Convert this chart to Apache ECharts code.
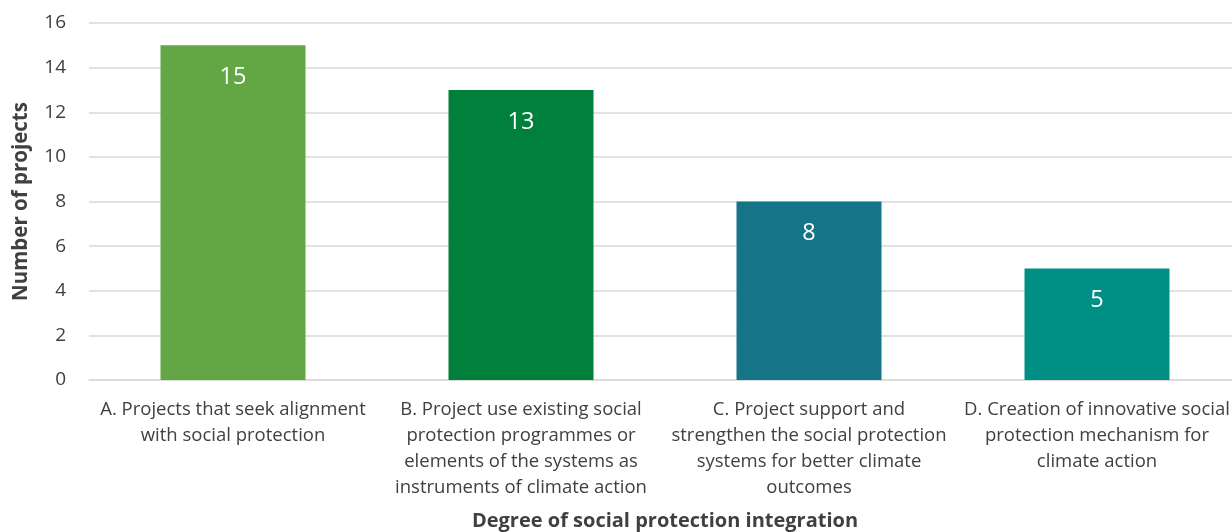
<!DOCTYPE html>
<html>
<head>
<meta charset="utf-8">
<script src="https://cdn.jsdelivr.net/npm/echarts@6/dist/echarts.min.js"></script>
<style>
  html, body { margin: 0; padding: 0; background: #ffffff; overflow: hidden; }
  /* the plot runs a few pixels past the right edge of the window */
  #chart { width: 1242px; height: 532px; }
</style>
</head>
<body>
<div id="chart"></div>
<script>
// Projects grouped by how deeply they integrate social protection
const categories = [
  'A. Projects that seek alignment\nwith social protection',
  'B. Project use existing social\nprotection programmes or\nelements of the systems as\ninstruments of climate action',
  'C. Project support and\nstrengthen the social protection\nsystems for better climate\noutcomes',
  'D. Creation of innovative social\nprotection mechanism for\nclimate action'
];
const projectCounts = [15, 13, 8, 5];
const barColors = ['#63a744', '#00803b', '#167488', '#008f85'];
const yTicks = { min: 0, max: 16, interval: 2 };

const FONT = '"Open Sans", sans-serif';

const chart = echarts.init(document.getElementById('chart'), null, { renderer: 'canvas' });
chart.setOption({
  animation: false,
  backgroundColor: '#ffffff',
  grid: { left: 89, right: 1, top: 23, bottom: 152, containLabel: false, outerBoundsMode: 'none' },
  xAxis: {
    type: 'category',
    data: categories,
    name: 'Degree of social protection integration',
    nameLocation: 'middle',
    nameGap: 141,
    nameTextStyle: { fontFamily: FONT, fontSize: 20, fontWeight: 'bold', color: '#404040', verticalAlign: 'middle' },
    axisLine: { show: true, lineStyle: { color: '#d9d9d9', width: 1.5 } },
    axisTick: { show: false },
    axisLabel: {
      interval: 0,
      margin: 17,
      fontFamily: FONT,
      fontSize: 18.5,
      lineHeight: 26,
      color: '#404040',
      align: 'center'
    }
  },
  yAxis: {
    type: 'value',
    min: yTicks.min,
    max: yTicks.max,
    interval: yTicks.interval,
    name: 'Number of projects',
    nameLocation: 'middle',
    nameGap: 68,
    nameTextStyle: { fontFamily: FONT, fontSize: 20.5, fontWeight: 'bold', color: '#404040', verticalAlign: 'middle' },
    axisLine: { show: false },
    axisTick: { show: false },
    axisLabel: { fontFamily: FONT, fontSize: 19, color: '#404040', margin: 23 },
    splitLine: { lineStyle: { color: '#d9d9d9', width: 1.5 } }
  },
  series: [{
    type: 'bar',
    barWidth: 145,
    data: projectCounts.map((v, i) => ({ value: v, itemStyle: { color: barColors[i] } })),
    label: {
      show: true,
      position: 'insideTop',
      distance: 20,
      fontFamily: FONT,
      fontSize: 23.5,
      color: '#ffffff'
    }
  }]
});
</script>
</body>
</html>
